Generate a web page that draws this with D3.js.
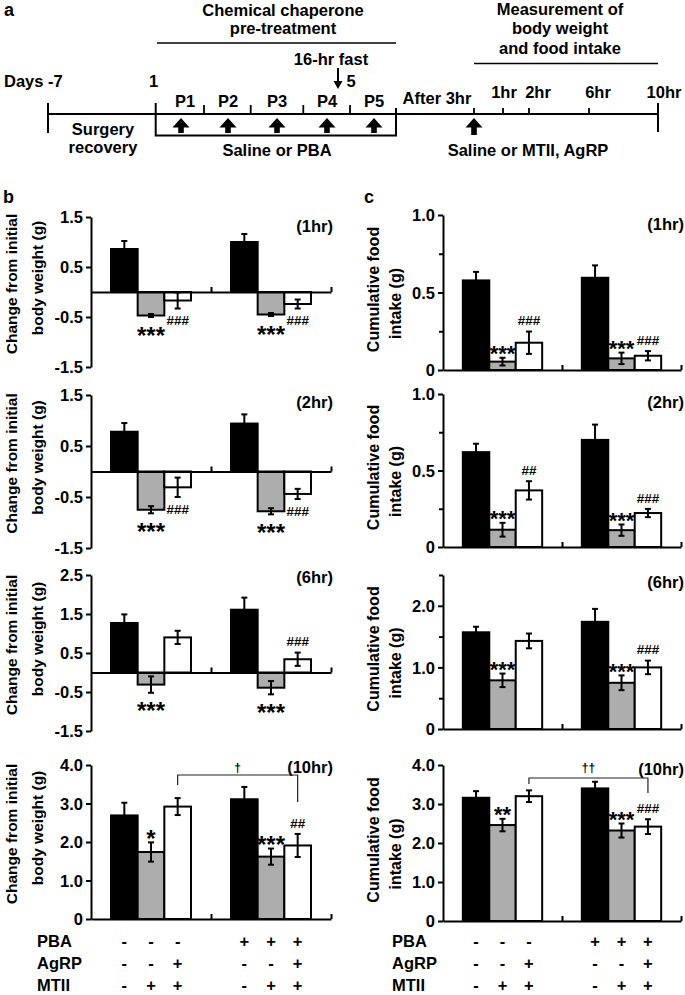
<!DOCTYPE html>
<html><head><meta charset="utf-8">
<script src="https://cdn.jsdelivr.net/npm/d3@7"></script>
<style>
body{margin:0;background:#fff}
svg{display:block}
text{font-family:"Liberation Sans",Arial,Helvetica,sans-serif;font-weight:bold;fill:#000}
</style>
</head><body>
<svg id="chart" width="685" height="995"></svg>
<script>
// ---------------- DATA ----------------
const groups = ["Saline", "PBA"];
const treatments = ["Vehicle", "MTII", "MTII+AgRP"];

// Change from initial body weight (g): [Sal-Veh, Sal-MTII, Sal-MTII+AgRP, PBA-Veh, PBA-MTII, PBA-MTII+AgRP]
const bw1hr = [0.86, -0.47, -0.17, 1.00, -0.45, -0.24];
const bw1hrErr = [0.16, 0.03, 0.16, 0.16, 0.03, 0.09];
const bw2hr = [0.78, -0.75, -0.31, 0.94, -0.78, -0.44];
const bw2hrErr = [0.17, 0.07, 0.19, 0.18, 0.06, 0.10];
const bw6hr = [1.27, -0.31, 0.90, 1.61, -0.39, 0.34];
const bw6hrErr = [0.22, 0.21, 0.17, 0.31, 0.17, 0.17];
const bw10hr = [2.69, 1.74, 2.92, 3.11, 1.62, 1.91];
const bw10hrErr = [0.33, 0.25, 0.22, 0.32, 0.21, 0.30];

// Cumulative food intake (g)
const fi1hr = [0.578, 0.054, 0.176, 0.595, 0.075, 0.092];
const fi1hrErr = [0.055, 0.025, 0.072, 0.08, 0.037, 0.03];
const fi2hr = [0.62, 0.113, 0.37, 0.70, 0.11, 0.222];
const fi2hrErr = [0.055, 0.045, 0.06, 0.10, 0.037, 0.027];
const fi6hr = [1.57, 0.79, 1.43, 1.74, 0.75, 1.00];
const fi6hrErr = [0.09, 0.11, 0.12, 0.21, 0.12, 0.11];
const fi10hr = [3.16, 2.46, 3.20, 3.40, 2.32, 2.42];
const fi10hrErr = [0.17, 0.16, 0.15, 0.17, 0.18, 0.19];

// significance marks
const bwStars1hr = ["", "***", "", "", "***", ""];
const bwHash1hr = ["", "", "###", "", "", "###"];
const bwStars2hr = ["", "***", "", "", "***", ""];
const bwHash2hr = ["", "", "###", "", "", "###"];
const bwStars6hr = ["", "***", "", "", "***", ""];
const bwHash6hr = ["", "", "", "", "", "###"];
const bwStars10hr = ["", "*", "", "", "***", ""];
const bwHash10hr = ["", "", "", "", "", "##"];
const fiStars1hr = ["", "***", "", "", "***", ""];
const fiHash1hr = ["", "", "###", "", "", "###"];
const fiStars2hr = ["", "***", "", "", "***", ""];
const fiHash2hr = ["", "", "##", "", "", "###"];
const fiStars6hr = ["", "***", "", "", "***", ""];
const fiHash6hr = ["", "", "", "", "", "###"];
const fiStars10hr = ["", "**", "", "", "***", ""];
const fiHash10hr = ["", "", "", "", "", "###"];
const bwDagger = "\u2020";
const fiDagger = "\u2020\u2020";

// tick values
const bwTicks1 = [-1.5, -0.5, 0.5, 1.5];
const bwTicks2 = [-1.5, -0.5, 0.5, 1.5];
const bwTicks6 = [-1.5, -0.5, 0.5, 1.5, 2.5];
const bwTicks10 = [0, 1, 2, 3, 4];
const fiTicks1 = [0, 0.5, 1];
const fiMinor1 = [0.25, 0.75];
const fiTicks2 = [0, 0.5, 1];
const fiMinor2 = [0.25, 0.75];
const fiTicks6 = [0, 1, 2];
const fiMinor6 = [0.5, 1.5, 2.5];
const fiTicks10 = [0, 1, 2, 3, 4];
const fiMinor10 = [];

const timeLabels = ["(1hr)", "(2hr)", "(6hr)", "(10hr)"];

// treatment table
const tableLabels = ["PBA", "AgRP", "MTII"];
const pbaRow = ["-", "-", "-", "+", "+", "+"];
const agrpRow = ["-", "-", "+", "-", "-", "+"];
const mtiiRow = ["-", "+", "+", "-", "+", "+"];

// ---------------- DRAW ----------------
const svg = d3.select("#chart");
const fills = ["#000000", "#adadad", "#ffffff"];

function txt(g, s, x, y, size, anchor, extra) {
  const t = g.append("text").attr("x", x).attr("y", y).attr("font-size", size)
    .attr("text-anchor", anchor || "start").text(s);
  if (extra) extra(t);
  return t;
}

// ---- Panel a : timeline ----
const tl = svg.append("g");
const mainY = 114;
function ln(g, x1, y1, x2, y2, w) {
  g.append("line").attr("x1", x1).attr("y1", y1).attr("x2", x2).attr("y2", y2)
    .attr("stroke", "#000").attr("stroke-width", w || 2);
}
txt(tl, "a", 4, 16, 18, "start");
txt(tl, "Chemical chaperone", 283, 15.5, 16.5, "middle");
txt(tl, "pre-treatment", 283, 34, 16.5, "middle");
ln(tl, 157, 43, 396, 43, 1.5);
txt(tl, "16-hr fast", 331, 65, 16.5, "middle");
ln(tl, 338, 68, 338, 83, 2);
tl.append("path").attr("d", "M333.5,81 L338,89 L342.5,81 Z").attr("fill", "#000");
txt(tl, "5", 351, 87, 16.5, "middle");
txt(tl, "Days -7", 4, 87, 16.5, "start");
txt(tl, "1", 153.5, 87, 16.5, "middle");
txt(tl, "Measurement of", 560, 15, 16.5, "middle");
txt(tl, "body weight", 560, 34, 16.5, "middle");
txt(tl, "and food intake", 560, 53.5, 16.5, "middle");
ln(tl, 474, 63.5, 658, 63.5, 1.5);

ln(tl, 48, mainY, 658, mainY, 2);
ln(tl, 48, 103, 48, 133, 2);
ln(tl, 658, 103, 658, 132, 2);
tl.append("rect").attr("x", 155.7).attr("y", mainY).attr("width", 240.3).attr("height", 21.5)
  .attr("fill", "none").attr("stroke", "#000").attr("stroke-width", 2);
ln(tl, 155.7, 103, 155.7, mainY, 2);
ln(tl, 396, 108, 396, mainY, 2);
const pTicks = [204, 250.7, 303.3, 350];
pTicks.forEach(x => ln(tl, x, 105, x, mainY, 1.8));
const hrTicks = [474, 503, 529, 589];
hrTicks.forEach(x => ln(tl, x, 108, x, mainY, 1.8));
const pNames = ["P1", "P2", "P3", "P4", "P5"];
const pCenters = [181, 228, 277, 327, 374];
function upArrow(x, y0, y1) {
  tl.append("path").attr("d",
    `M${x},${y0} L${x + 8.5},${y0 + 9.5} L${x + 2.8},${y0 + 9.5} L${x + 2.8},${y1} L${x - 2.8},${y1} L${x - 2.8},${y0 + 9.5} L${x - 8.5},${y0 + 9.5} Z`)
    .attr("fill", "#000");
}
pNames.forEach((p, i) => { txt(tl, p, pCenters[i] + (i === 0 ? 4 : 0), 106.5, 16.5, "middle"); upArrow(pCenters[i], 118, 133); });
upArrow(474, 118, 135);
txt(tl, "After 3hr", 437, 104, 16.5, "middle");
const hrNames = ["1hr", "2hr", "6hr", "10hr"];
const hrCenters = [504, 538, 598, 664];
hrNames.forEach((h, i) => txt(tl, h, hrCenters[i], 98, 16.5, "middle"));
txt(tl, "Surgery", 103, 135, 16.5, "middle");
txt(tl, "recovery", 103, 153, 16.5, "middle");
txt(tl, "Saline or PBA", 277, 156, 16.5, "middle");
txt(tl, "Saline or MTII, AgRP", 528, 156, 16.5, "middle");

txt(svg, "b", 3, 203, 18, "start");
txt(svg, "c", 364, 203, 18, "start");

// ---- bar panels ----
function fmtTick(d) { return d === 0 ? "0" : d.toFixed(1); }

function panel(o) {
  const g = svg.append("g");
  const dom = d3.extent(o.ticks.concat(o.minor));
  const y = d3.scaleLinear().domain(dom).range([o.bottom, o.top]);
  const xg = d3.scaleBand().domain(groups).range([o.x0, o.x1]);
  const xb = d3.scaleBand().domain(treatments).range([0, xg.bandwidth()]).paddingOuter(0.75);
  const items = o.vals.map((v, i) => ({ v, e: o.errs[i], g: groups[Math.floor(i / 3)], t: treatments[i % 3], i,
    star: o.stars[i], hash: o.hashes[i] }));
  const cx = d => xg(d.g) + xb(d.t) + xb.bandwidth() / 2;

  g.selectAll("rect.bar").data(items).join("rect").attr("class", "bar")
    .attr("x", d => xg(d.g) + xb(d.t)).attr("width", xb.bandwidth())
    .attr("y", d => y(Math.max(0, d.v))).attr("height", d => Math.abs(y(d.v) - y(0)))
    .attr("fill", d => fills[d.i % 3]).attr("stroke", "#000").attr("stroke-width", 2);

  const eb = g.selectAll("g.err").data(items).join("g").attr("class", "err")
    .attr("stroke", "#000").attr("stroke-width", 2);
  eb.append("line").attr("x1", cx).attr("x2", cx).attr("y1", d => y(d.v - d.e)).attr("y2", d => y(d.v + d.e));
  eb.append("line").attr("x1", d => cx(d) - 3).attr("x2", d => cx(d) + 3).attr("y1", d => y(d.v + d.e)).attr("y2", d => y(d.v + d.e));
  eb.append("line").attr("x1", d => cx(d) - 3).attr("x2", d => cx(d) + 3).attr("y1", d => y(d.v - d.e)).attr("y2", d => y(d.v - d.e));

  // y axis
  const ax = g.append("g").attr("transform", `translate(${o.x0},0)`)
    .call(d3.axisLeft(y).tickValues(o.ticks).tickFormat(fmtTick).tickSize(5).tickSizeOuter(0).tickPadding(3));
  ax.attr("font-family", null).attr("font-size", null);
  ax.select(".domain").attr("stroke-width", 2);
  ax.selectAll(".tick line").attr("stroke-width", 2);
  ax.selectAll("text").attr("font-size", 16.5).attr("font-weight", "bold").attr("fill", "#000").attr("dy", "0.35em");
  if (o.minor.length) {
    const mx = g.append("g").attr("transform", `translate(${o.x0},0)`)
      .call(d3.axisLeft(y).tickValues(o.minor).tickFormat("").tickSize(4).tickSizeOuter(0));
    mx.select(".domain").remove();
    mx.selectAll(".tick line").attr("stroke-width", 2);
  }
  // x axis at zero
  const xs = d3.scaleLinear().domain([0, groups.length]).range([o.x0, o.x1]);
  const xa = g.append("g").attr("transform", `translate(0,${y(0)})`)
    .call(d3.axisBottom(xs).tickValues([1, 2]).tickFormat("").tickSizeInner(-5).tickSizeOuter(0));
  xa.select(".domain").attr("stroke-width", 2);
  xa.selectAll(".tick line").attr("stroke-width", 2);

  // significance marks
  const sfs = o.starSize;
  items.filter(d => d.star).forEach(d => {
    const c = d.v < 0 ? y(d.v - d.e) + 13 : y(d.v + d.e) - 9;
    txt(g, d.star, cx(d), c + 0.57 * sfs, sfs, "middle");
  });
  items.filter(d => d.hash).forEach(d => {
    const c = d.v < 0 ? y(d.v - d.e) + 12 : y(d.v + d.e) - 11;
    txt(g, d.hash, cx(d), c + 0.35 * 13.5, 13.5, "middle");
  });

  // time label
  txt(g, o.label, o.labelX, o.top + o.labelDy, 16.5, "end");

  // y title
  const cy = (o.top + o.bottom) / 2;
  o.title.forEach((s, k) => {
    g.append("text").attr("transform", `translate(${o.titleX[k]},${cy + o.titleDy[k]}) rotate(-90)`)
      .attr("text-anchor", "middle").attr("font-size", o.titleSize).text(s);
  });

  // bracket
  if (o.dagger) {
    const a = items[2], b = items[5];
    const pa = d3.path();
    pa.moveTo(cx(a), o.br[1]); pa.lineTo(cx(a), o.br[0]); pa.lineTo(cx(b), o.br[0]); pa.lineTo(cx(b), o.br[2]);
    g.append("path").attr("d", pa.toString()).attr("fill", "none").attr("stroke", "#222").attr("stroke-width", 1.2);
    txt(g, o.dagger, (cx(a) + cx(b)) / 2, 771.5, 12, "middle", t => t.attr("font-weight", "normal").style("fill", "#000"));
  }

  // treatment table
  if (o.table) {
    const rows = [pbaRow, agrpRow, mtiiRow];
    const base = [947, 969, 991];
    rows.forEach((r, k) => {
      txt(g, tableLabels[k], o.tableX, base[k], 16.5, "start");
      items.forEach((d, i) => txt(g, r[i], cx(d), base[k], 16.5, "middle"));
    });
  }
}

const bTitle = ["Change from initial", "body weight (g)"];
const cTitle = ["Cumulative food", "intake (g)"];
const bCommon = { x0: 91, x1: 331, labelX: 333, title: bTitle, titleX: [16.7, 43.4], titleDy: [-8, -14], titleSize: 15.5, starSize: 24, tableX: 37 };
const cCommon = { x0: 443, x1: 681, labelX: 684, title: cTitle, titleX: [379, 400.5], titleDy: [-3, 11], titleSize: 16, starSize: 22, tableX: 392 };

const bPanels = [
  { vals: bw1hr, errs: bw1hrErr, stars: bwStars1hr, hashes: bwHash1hr, ticks: bwTicks1, minor: [], label: timeLabels[0], top: 217, bottom: 367, labelDy: 14.5 },
  { vals: bw2hr, errs: bw2hrErr, stars: bwStars2hr, hashes: bwHash2hr, ticks: bwTicks2, minor: [], label: timeLabels[1], top: 395, bottom: 548, labelDy: 13 },
  { vals: bw6hr, errs: bw6hrErr, stars: bwStars6hr, hashes: bwHash6hr, ticks: bwTicks6, minor: [], label: timeLabels[2], top: 575, bottom: 731, labelDy: 8 },
  { vals: bw10hr, errs: bw10hrErr, stars: bwStars10hr, hashes: bwHash10hr, ticks: bwTicks10, minor: [], label: timeLabels[3], top: 765, bottom: 919, labelDy: 8,
    dagger: bwDagger, br: [775, 785, 802], table: true }
];
const cPanels = [
  { vals: fi1hr, errs: fi1hrErr, stars: fiStars1hr, hashes: fiHash1hr, ticks: fiTicks1, minor: fiMinor1, label: timeLabels[0], top: 215, bottom: 370, labelDy: 15 },
  { vals: fi2hr, errs: fi2hrErr, stars: fiStars2hr, hashes: fiHash2hr, ticks: fiTicks2, minor: fiMinor2, label: timeLabels[1], top: 394, bottom: 547, labelDy: 13.5 },
  { vals: fi6hr, errs: fi6hrErr, stars: fiStars6hr, hashes: fiHash6hr, ticks: fiTicks6, minor: fiMinor6, label: timeLabels[2], top: 575, bottom: 729, labelDy: 12.5 },
  { vals: fi10hr, errs: fi10hrErr, stars: fiStars10hr, hashes: fiHash10hr, ticks: fiTicks10, minor: fiMinor10, label: timeLabels[3], top: 765, bottom: 921, labelDy: 10,
    dagger: fiDagger, br: [778, 784, 793], table: true }
];
bPanels.forEach(p => panel(Object.assign({}, bCommon, p)));
cPanels.forEach(p => panel(Object.assign({}, cCommon, p)));
</script>
</body></html>
